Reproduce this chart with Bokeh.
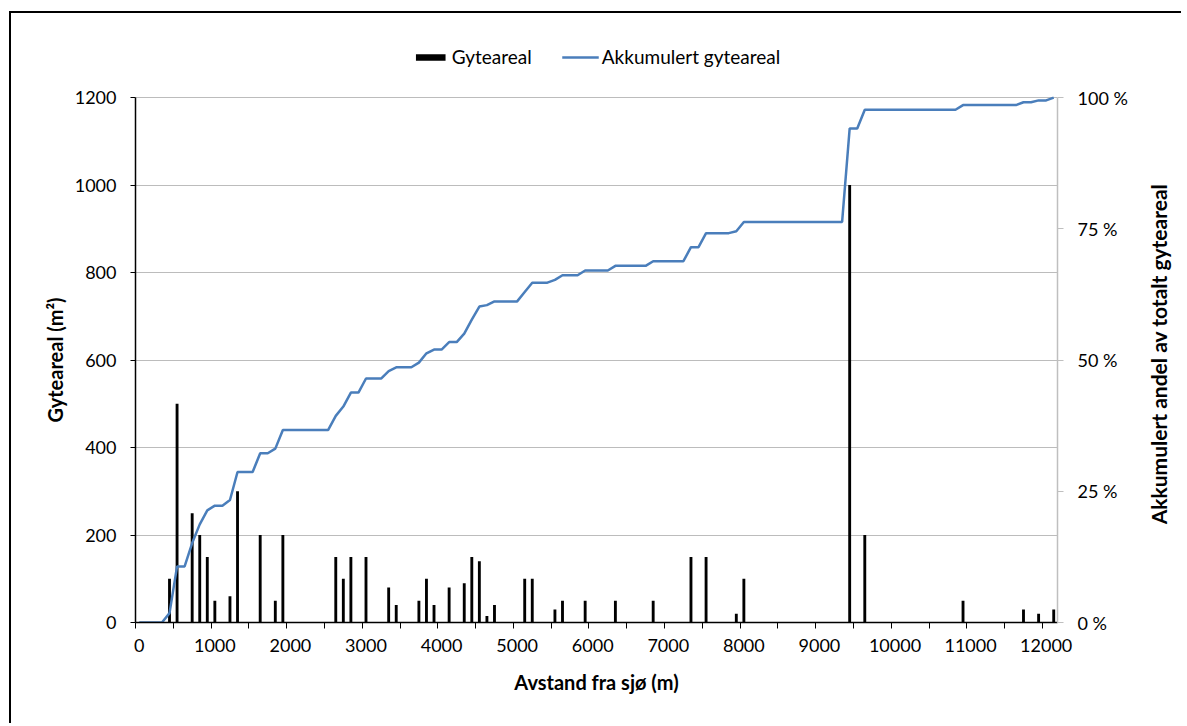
import math
import numpy as np
from bokeh.plotting import figure
from bokeh.layouts import row
from bokeh.models import Range1d, LinearAxis, FixedTicker, Legend, LegendItem, ColumnDataSource, Label
from bokeh.embed import file_html
from bokeh.resources import INLINE

# Spawning sites: distance from the sea (m) and spawning area (m²)
distance = [400, 500, 700, 800, 900, 1000, 1200, 1300, 1600, 1800,
            1900, 2600, 2700, 2800, 3000, 3300, 3400, 3700, 3800, 3900,
            4100, 4300, 4400, 4500, 4600, 4700, 5100, 5200, 5500, 5600,
            5900, 6300, 6800, 7300, 7500, 7900, 8000, 9400, 9600, 10900,
            11700, 11900, 12100]
area = [100, 500, 250, 200, 150, 50, 60, 300, 200, 50,
        200, 150, 100, 150, 150, 80, 40, 50, 100, 40,
        80, 90, 150, 140, 15, 40, 100, 100, 30, 50,
        50, 50, 50, 150, 150, 20, 100, 1000, 200, 50,
        30, 20, 30]

x_labels = ["0", "1000", "2000", "3000", "4000", "5000", "6000", "7000",
            "8000", "9000", "10000", "11000", "12000"]
y_left_labels = ["0", "200", "400", "600", "800", "1000", "1200"]
y_right_labels = ["0 %", "25 %", "50 %", "75 %", "100 %"]

# 100 m sections along the river; accumulated share of the total area
sections = list(range(0, 12101, 100))
area_by_section = dict(zip(distance, area))
sec_area = np.array([area_by_section.get(s, 0) for s in sections], dtype=float)
cum_pct = np.cumsum(sec_area) / sec_area.sum() * 100.0

bars = ColumnDataSource(dict(x=distance, top=area))
line_src = ColumnDataSource(dict(x=sections, y=cum_pct))

FONT = "Lato"
BLUE = "#4a7ebb"
TICK_SIZE = "18px"
LEG_SIZE = "19px"
TITLE_SIZE = "20px"
PAD = "\u2003" * 4   # keeps the left axis title centred on the 0-1200 span

# the frame extends above the axes to hold the legend (as in the original)
HEADROOM = 584.0 / 524.0
Y_MAX = 1200
P_MAX = 100

p = figure(width=1120, height=710, output_backend="svg", toolbar_location=None,
           x_range=Range1d(-50, 12150), y_range=Range1d(0, Y_MAX * HEADROOM),
           min_border_left=124, min_border_right=74, min_border_top=24,
           min_border_bottom=101)
p.extra_y_ranges = {"pct": Range1d(0, P_MAX * HEADROOM)}
p.outline_line_color = None
p.background_fill_color = "white"
p.border_fill_color = "white"

r_bar = p.vbar(x="x", top="top", width=38, source=bars, fill_color="black",
               line_color=None)
r_line = p.line(x="x", y="y", source=line_src, y_range_name="pct",
                line_color=BLUE, line_width=2.5)

# grid
p.xgrid.visible = False
p.ygrid.ticker = FixedTicker(ticks=[int(v) for v in y_left_labels])
p.ygrid.grid_line_color = "#bcbcbc"
p.ygrid.grid_line_width = 1

# x axis
xa = p.xaxis[0]
xa.ticker = FixedTicker(ticks=[int(v) for v in x_labels],
                        minor_ticks=[-50 + 500 * k for k in range(25)])
xa.major_tick_in = 0
xa.major_tick_out = 0
xa.minor_tick_in = 0
xa.minor_tick_out = 6
xa.minor_tick_line_color = "black"
xa.axis_line_color = "black"
xa.axis_line_width = 1.5
xa.major_label_standoff = 10
xa.major_label_text_font = FONT
xa.major_label_text_font_size = TICK_SIZE
xa.major_label_text_color = "black"
xa.axis_label = "Avstand fra sjø (m)"
xa.axis_label_text_font = FONT
xa.axis_label_text_font_style = "bold"
xa.axis_label_text_font_size = TITLE_SIZE
xa.axis_label_text_color = "black"
xa.axis_label_standoff = 15

# left y axis
ya = p.yaxis[0]
ya.bounds = (0, Y_MAX)
ya.ticker = FixedTicker(ticks=[int(v) for v in y_left_labels])
ya.minor_tick_out = 0
ya.minor_tick_in = 0
ya.major_tick_in = 0
ya.major_tick_out = 5
ya.major_tick_line_color = "black"
ya.axis_line_color = "black"
ya.axis_line_width = 1.5
ya.major_label_standoff = 14
ya.major_label_text_font = FONT
ya.major_label_text_font_size = TICK_SIZE
ya.major_label_text_color = "black"
ya.axis_label = "Gyteareal (m²)" + PAD
ya.axis_label_text_font = FONT
ya.axis_label_text_font_style = "bold"
ya.axis_label_text_font_size = TITLE_SIZE
ya.axis_label_text_color = "black"
ya.axis_label_standoff = 5

# right y axis (its title is drawn in the narrow strip on the right)
ra = LinearAxis(y_range_name="pct", bounds=(0, P_MAX),
                ticker=FixedTicker(ticks=[0, 25, 50, 75, 100]))
ra.major_label_overrides = {v: lab for v, lab in zip([0, 25, 50, 75, 100], y_right_labels)}
ra.minor_tick_out = 0
ra.minor_tick_in = 0
ra.major_tick_in = 0
ra.major_tick_out = 6
ra.major_tick_line_color = "#bfbfbf"
ra.axis_line_color = "#bfbfbf"
ra.axis_line_width = 1.5
ra.major_label_standoff = 14
ra.major_label_text_font = FONT
ra.major_label_text_font_size = TICK_SIZE
ra.major_label_text_color = "black"
p.add_layout(ra, "right")

legend = Legend(items=[LegendItem(label="Gyteareal", renderers=[r_bar]),
                       LegendItem(label="Akkumulert gyteareal", renderers=[r_line])],
                orientation="horizontal", location="top_center")
legend.glyph_width = 37
legend.glyph_height = 8
legend.label_standoff = 3
legend.spacing = 30
legend.padding = 0
legend.margin = 8
legend.border_line_color = None
legend.background_fill_alpha = 0
legend.label_text_font = FONT
legend.label_text_font_size = LEG_SIZE
legend.label_text_color = "black"
p.add_layout(legend, "center")

# narrow strip holding the right-hand axis title (reads bottom-to-top)
s = figure(width=50, height=710, output_backend="svg", toolbar_location=None,
           x_range=Range1d(0, 1), y_range=Range1d(0, 1),
           x_axis_location=None, y_axis_location=None,
           min_border_left=0, min_border_right=0, min_border_top=0,
           min_border_bottom=0)
s.outline_line_color = None
s.grid.visible = False
s.background_fill_color = "white"
s.border_fill_color = "white"
s.add_layout(Label(x=0.54, y=0.459, text="Akkumulert andel av totalt gyteareal",
                   angle=math.pi / 2, text_align="center", text_baseline="middle",
                   text_font=FONT, text_font_style="bold",
                   text_font_size="21px", text_color="black"))

layout = row(p, s)
layout.margin = (11, 0, 0, 9)
layout.styles = {"border-left": "2px solid black", "border-top": "2px solid black"}

open("out.html", "w").write(file_html(layout, INLINE))
